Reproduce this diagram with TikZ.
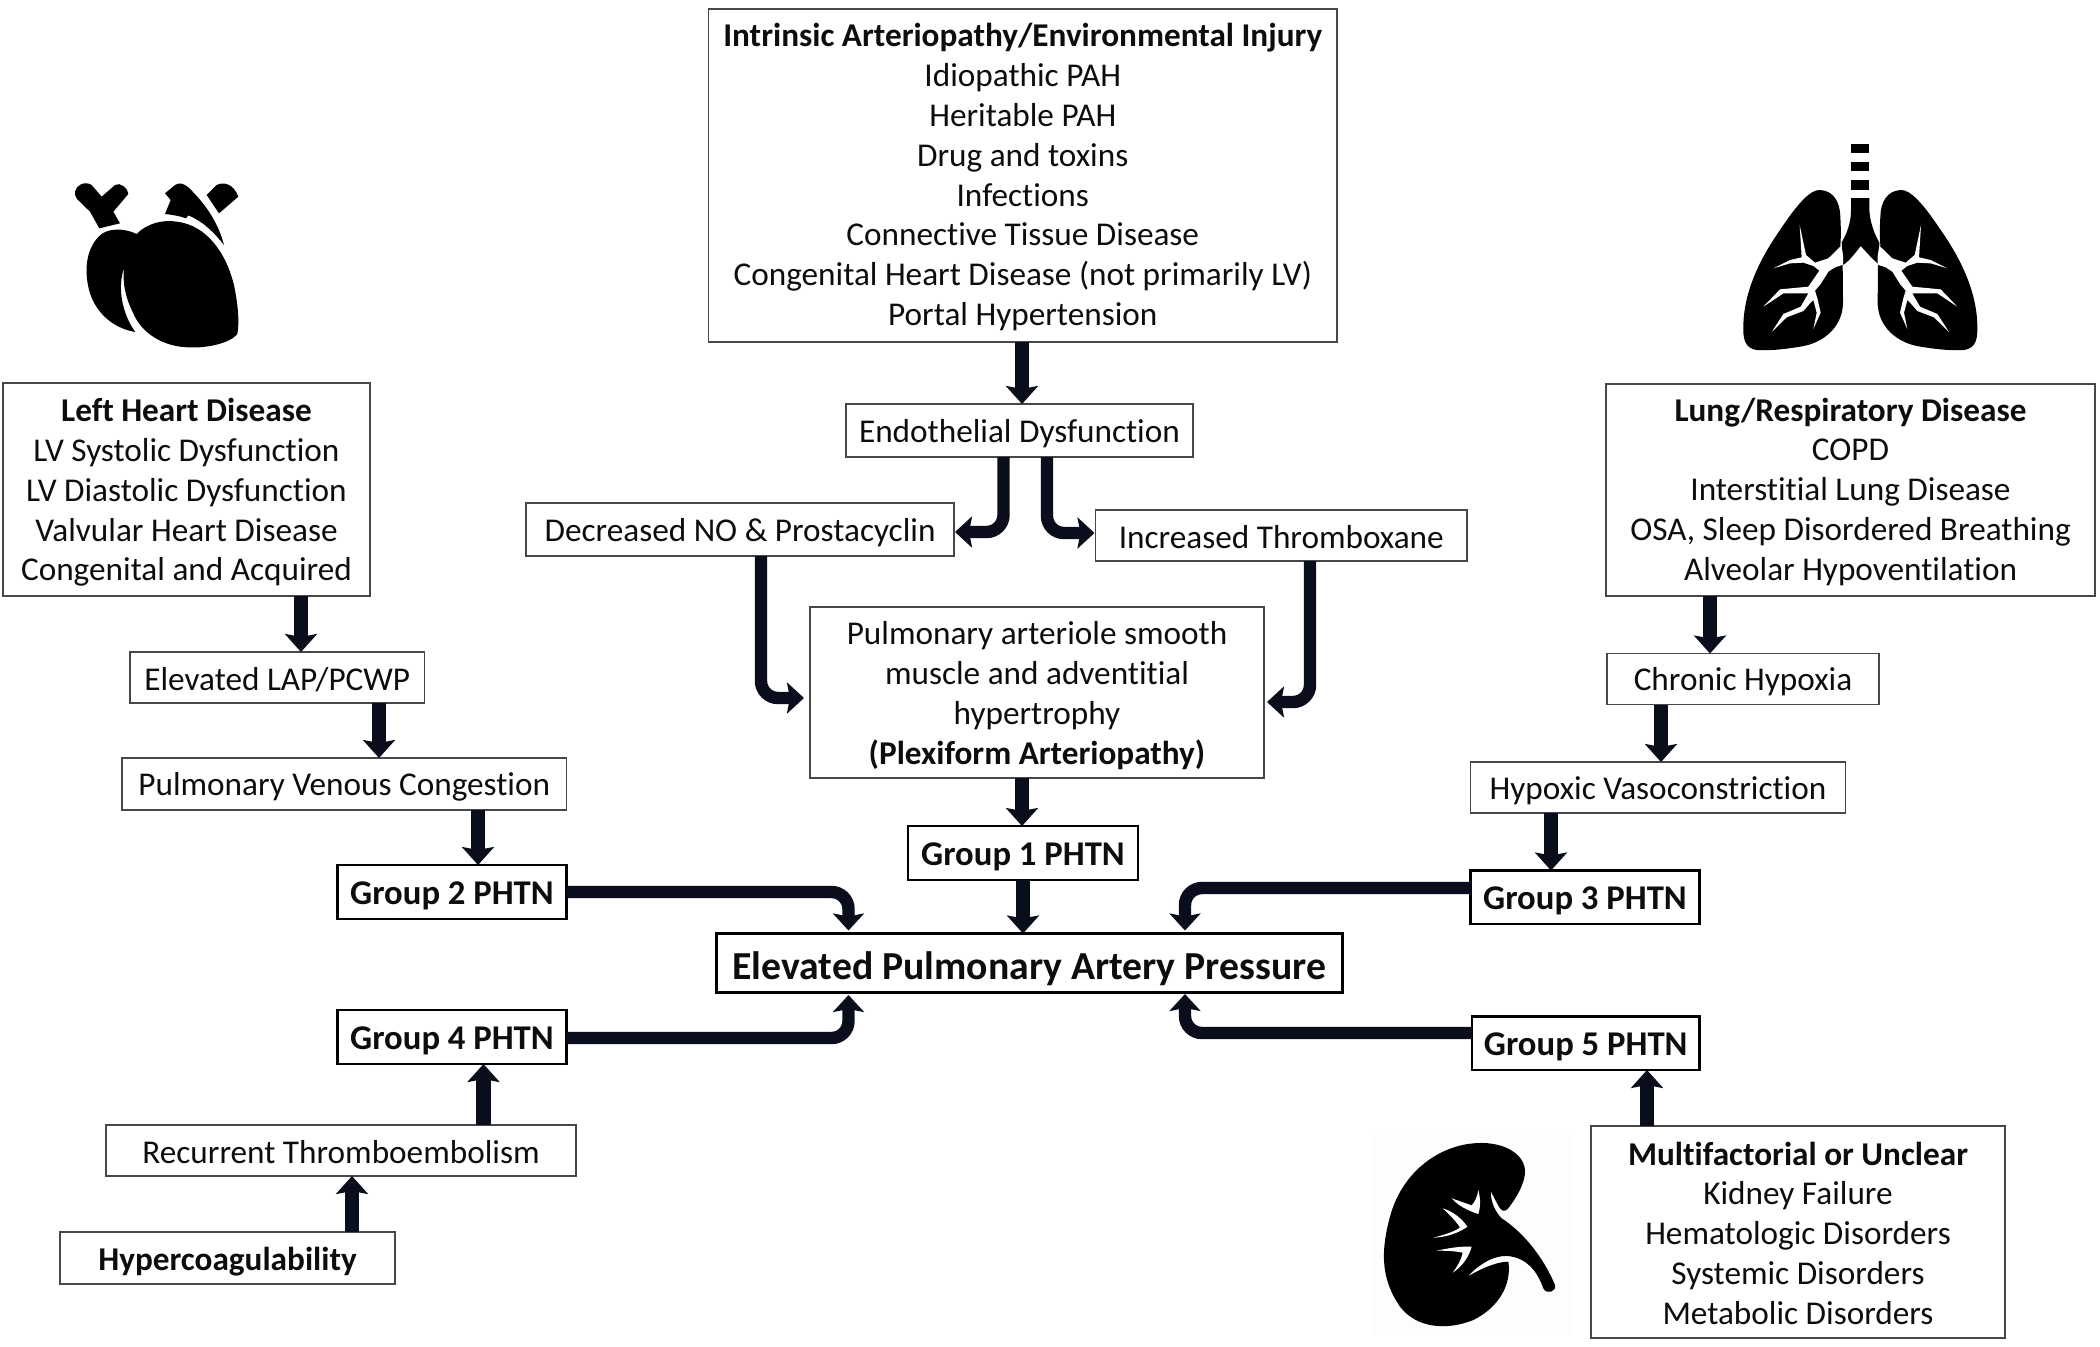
\documentclass[tikz,border=0pt]{standalone}
\usepackage{fontspec}
\setmainfont{Carlito}[Ligatures=NoCommon]
\usetikzlibrary{arrows.meta}
\newcommand\bx[7]{\node[#6,minimum width={(#4-#2)*0.5pt},minimum height={(#5-#3)*0.5pt}] (#1) at ({(#2+#4)/2},{(#3+#5)/2}) {#7};}
\newcommand\rl[1]{\rule{0pt}{#1pt}}
\definecolor{arrowink}{HTML}{0A0E1C}
\tikzset{
  base/.style={draw=black!72,line width=0.75pt,inner sep=0pt,outer sep=0pt,align=center,font=\fontsize{16.62pt}{19.9pt}\selectfont,text=black!95,fill=white},
  grp/.style={base,draw=black,line width=1.4pt,font=\fontsize{17.35pt}{19.9pt}\selectfont\bfseries},
  main/.style={grp,line width=1.5pt,font=\fontsize{19.85pt}{22pt}\selectfont\bfseries},
  arr/.style={draw=arrowink,line width=7.2pt,-{Stealth[length=9pt,width=16pt,inset=1.5pt]}},
  elbow/.style={draw=arrowink,line width=6.2pt,rounded corners=8.5pt,-{Stealth[length=8.5pt,width=15.5pt,inset=1.5pt]}},
  icon/.style={fill=black,draw=none},
  vein/.style={fill=white,draw=none}
}
\newcommand\lungside{
  \fill[icon] (360,180) .. controls (400,182) and (420,215) .. (421,260) .. controls (423,300) and (423,320) .. (421,345) -- (428,405) -- (429,510) .. controls (432,590) and (370,640) .. (300,650) .. controls (240,660) and (200,662) .. (170,660) .. controls (140,655) and (130,635) .. (130,600) .. controls (128,500) and (170,400) .. (240,300) .. controls (290,225) and (330,178) .. (360,180) -- cycle;
  \fill[vein] (424,347) -- (429,378) -- (429,404) -- (405,412) -- (385,425) -- (362,462) -- (345,482) -- (352,505) -- (362,548) -- (340,597) -- (350,548) -- (340,510) -- (330,520) -- (310,543) -- (260,562) -- (215,606) -- (250,552) -- (302,530) -- (325,490) -- (250,490) -- (190,530) -- (240,478) -- (325,470) -- (358,422) -- (340,408) -- (310,398) -- (270,400) -- (220,415) -- (270,390) -- (305,382) -- (299,285) -- (318,375) -- (345,398) -- (385,385) -- cycle;
}
\begin{document}
\begin{tikzpicture}[x=0.5pt,y=-0.5pt]
\useasboundingbox (0,0) rectangle (2100,1346);
\fill[white] (0,0) rectangle (2100,1346);

% heart
\begin{scope}[shift={(0,130)},x=0.16667pt,y=-0.16667pt]
  \fill[icon] (225,185) .. controls (228,165) and (255,152) .. (275,165) -- (305,200) -- (345,165) .. controls (360,155) and (385,175) .. (385,192) -- (340,245) -- (360,280) -- (298,295) -- (270,245) -- (232,208) .. controls (226,200) and (224,195) .. (225,185) -- cycle;
  \fill[icon] (495,190) -- (525,165) .. controls (540,155) and (552,162) .. (565,172) .. controls (620,225) and (655,280) .. (672,345) .. controls (640,305) and (610,275) .. (565,256) -- (558,265) .. controls (540,258) and (515,254) .. (495,252) -- (512,210) -- cycle;
  \fill[icon] (620,195) -- (650,165) .. controls (670,155) and (700,160) .. (715,200) -- (657,250) -- cycle;
  \fill[icon] (298,318) .. controls (320,295) and (370,292) .. (410,312) .. controls (440,280) and (490,268) .. (530,275) .. controls (620,285) and (680,370) .. (703,470) .. controls (715,530) and (718,580) .. (712,612) .. controls (690,640) and (620,655) .. (565,652) .. controls (490,650) and (425,610) .. (400,550) .. controls (375,500) and (368,460) .. (372,415) .. controls (352,470) and (365,550) .. (406,606) .. controls (340,595) and (290,550) .. (270,490) .. controls (252,430) and (255,360) .. (298,318) -- cycle;
\end{scope}

% lungs
\begin{scope}[shift={(1700,130)},x=0.16667pt,y=-0.16667pt]
  \fill[icon] (453,41) rectangle (508,70);
  \fill[icon] (453,96) rectangle (508,124);
  \fill[icon] (453,151) rectangle (508,180);
  \fill[icon] (453,204) -- (508,204) -- (508,240) .. controls (510,280) and (525,315) .. (538,338) -- (538,405) .. controls (515,385) and (498,365) .. (482,348) .. controls (465,370) and (450,390) .. (430,405) -- (425,338) .. controls (440,310) and (453,280) .. (453,240) -- cycle;
  \lungside
\end{scope}
\begin{scope}[shift={(2020.67,130)},x=-0.16667pt,y=-0.16667pt]
  \lungside
\end{scope}

% kidney
\begin{scope}[shift={(1360,1120)},x=0.16667pt,y=-0.16667pt]
  \fill[black!0.7] (40,45) rectangle (635,645);
  \fill[icon] (340,70) .. controls (420,62) and (490,95) .. (495,150) .. controls (497,190) and (465,240) .. (442,268) .. controls (432,276) and (425,272) .. (418,262) .. controls (408,245) and (400,228) .. (392,213) .. controls (392,245) and (405,275) .. (425,295) .. controls (480,330) and (545,400) .. (585,495) .. controls (590,515) and (560,525) .. (550,505) .. controls (530,450) and (500,415) .. (445,408) .. controls (395,405) and (350,440) .. (322,470) .. controls (365,445) and (410,425) .. (445,425) .. controls (455,490) and (420,560) .. (340,600) .. controls (260,632) and (170,625) .. (120,560) .. controls (65,480) and (60,400) .. (90,290) .. controls (125,160) and (230,80) .. (340,70) -- cycle;
  \fill[vein] (275,235) -- (335,256) .. controls (345,245) and (352,230) .. (355,210) .. controls (362,240) and (362,260) .. (355,282) .. controls (325,272) and (295,258) .. (275,235) -- cycle;
  \fill[vein] (248,265) .. controls (280,275) and (305,295) .. (322,320) .. controls (295,340) and (255,352) .. (220,353) .. controls (250,345) and (285,335) .. (300,322) .. controls (285,300) and (265,280) .. (248,265) -- cycle;
  \fill[vein] (228,392) .. controls (265,385) and (300,378) .. (335,380) .. controls (325,415) and (305,440) .. (278,458) .. controls (295,435) and (305,415) .. (308,398) .. controls (280,392) and (255,392) .. (228,392) -- cycle;
\end{scope}

% boxes
\bx{top}{708.5}{9}{1337}{342}{base}{\rl{13.4}\textbf{Intrinsic Arteriopathy/Environmental Injury}\\Idiopathic PAH\\Heritable PAH\\Drug and toxins\\Infections\\Connective Tissue Disease\\Congenital Heart Disease (not primarily LV)\\Portal Hypertension}
\bx{endo}{846}{404}{1193}{457}{base}{\rl{14.6}Endothelial Dysfunction}
\bx{dec}{526}{503}{954}{556}{base}{\rl{14.6}Decreased NO \& Prostacyclin}
\bx{inc}{1095.5}{510}{1467}{561}{base}{\rl{13.4}Increased Thromboxane}
\bx{pulm}{810}{607}{1264}{778}{base}{\rl{14.6}Pulmonary arteriole smooth\\muscle and adventitial\\hypertrophy\\\textbf{(Plexiform Arteriopathy)}}
\bx{gone}{908}{826}{1138}{880}{grp}{\rl{15.6}Group 1 PHTN}
\bx{epap}{716.5}{933.5}{1342}{992}{main}{\rl{20}Elevated Pulmonary Artery Pressure}
\bx{lhd}{3}{383}{370}{596}{base}{\rl{14.6}\textbf{Left Heart Disease}\\LV Systolic Dysfunction\\LV Diastolic Dysfunction\\Valvular Heart Disease\\Congenital and Acquired}
\bx{lap}{130}{652}{424.5}{703}{base}{\rl{13.4}Elevated LAP/PCWP}
\bx{venous}{122}{758}{566.5}{810}{base}{\rl{14.6}Pulmonary Venous Congestion}
\bx{gtwo}{337.5}{865}{566.5}{919}{grp}{\rl{15.6}Group 2 PHTN}
\bx{gfour}{337.5}{1010}{566.5}{1064}{grp}{\rl{15.6}Group 4 PHTN}
\bx{recur}{106}{1125}{576}{1176}{base}{\rl{13.4}Recurrent Thromboembolism}
\bx{hyper}{60}{1232}{395}{1284}{base}{\rl{15.6}\textbf{Hypercoagulability}}
\bx{lung}{1606}{384}{2095}{596}{base}{\rl{13.4}\textbf{Lung/Respiratory Disease}\\COPD\\Interstitial Lung Disease\\OSA, Sleep Disordered Breathing\\Alveolar Hypoventilation}
\bx{chronic}{1607}{653.5}{1879}{704.5}{base}{\rl{14.6}Chronic Hypoxia}
\bx{hypox}{1470.5}{762}{1845.5}{813}{base}{\rl{14.6}Hypoxic Vasoconstriction}
\bx{gthree}{1470.5}{870.5}{1699.5}{924}{grp}{\rl{14.6}Group 3 PHTN}
\bx{gfive}{1472}{1016.5}{1699.5}{1070}{grp}{\rl{14.6}Group 5 PHTN}
\bx{multi}{1591}{1126}{2005}{1338}{base}{\rl{12.8}\textbf{Multifactorial or Unclear}\\Kidney Failure\\Hematologic Disorders\\Systemic Disorders\\Metabolic Disorders}

% straight connectors
\draw[arr] (top.south -| 1022,0) -- (endo.north -| 1022,0);
\draw[arr] (pulm.south -| 1022,0) -- (gone.north -| 1022,0);
\draw[arr] (gone.south -| 1023,0) -- (epap.north -| 1023,0);
\draw[arr] (lhd.south -| 301,0) -- (lap.north -| 301,0);
\draw[arr] (lap.south -| 379,0) -- (venous.north -| 379,0);
\draw[arr] (venous.south -| 478,0) -- (gtwo.north -| 478,0);
\draw[arr] (recur.north -| 483.5,0) -- (gfour.south -| 483.5,0);
\draw[arr] (hyper.north -| 352,0) -- (recur.south -| 352,0);
\draw[arr] (lung.south -| 1710,0) -- (chronic.north -| 1710,0);
\draw[arr] (chronic.south -| 1661,0) -- (hypox.north -| 1661,0);
\draw[arr] (hypox.south -| 1551,0) -- (gthree.north -| 1551,0);
\draw[arr] (multi.north -| 1647,0) -- (gfive.south -| 1647,0);

% elbow connectors
\draw[elbow,shorten >=0.5pt] (endo.south -| 1003.5,0) |- (dec.east |- 0,532);
\draw[elbow,shorten >=0.5pt] (endo.south -| 1047,0) |- (inc.west |- 0,533);
\draw[elbow,shorten >=3pt] (dec.south -| 761,0) |- (pulm.west |- 0,698);
\draw[elbow,shorten >=1.5pt] (inc.south -| 1310,0) |- (pulm.east |- 0,702);
\draw[elbow,shorten >=1.5pt] (gtwo.east |- 0,892) -| (epap.north -| 848.5,0);
\draw[elbow,shorten >=1.5pt] (gfour.east |- 0,1038) -| (epap.south -| 848.5,0);
\draw[elbow,shorten >=1.5pt] (gthree.west |- 0,888) -| (epap.north -| 1185,0);
\draw[elbow,shorten >=1pt] (gfive.west |- 0,1033) -| (epap.south -| 1185,0);
\end{tikzpicture}
\end{document}
